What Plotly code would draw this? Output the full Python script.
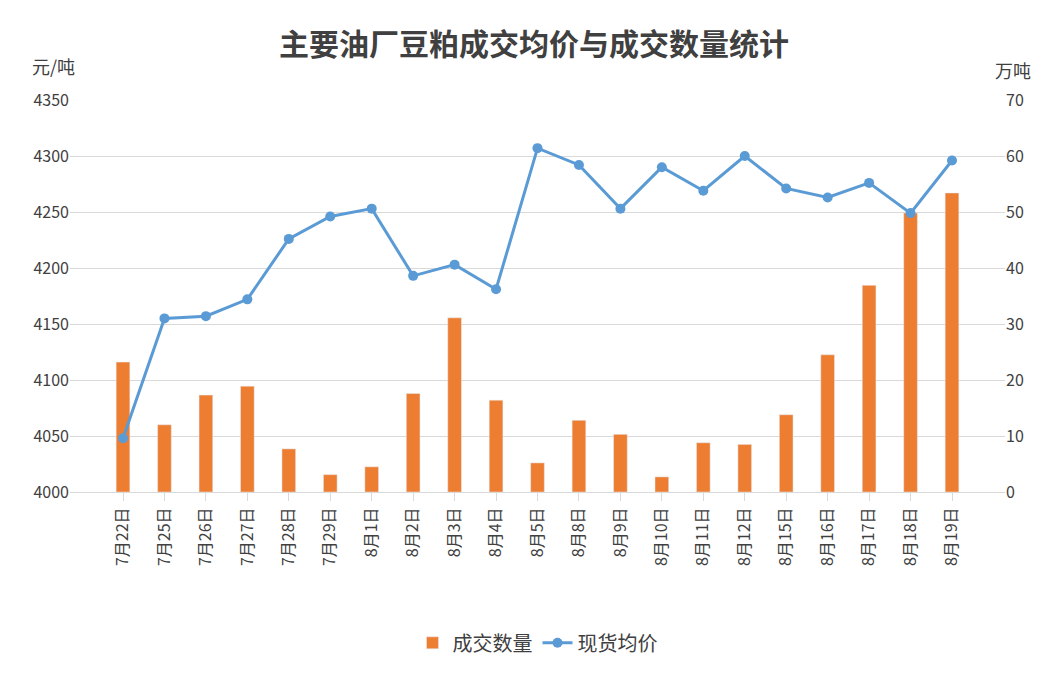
import plotly.graph_objects as go

dates = ["7月22日","7月25日","7月26日","7月27日","7月28日","7月29日","8月1日","8月2日","8月3日","8月4日","8月5日","8月8日","8月9日","8月10日","8月11日","8月12日","8月15日","8月16日","8月17日","8月18日","8月19日"]
volume = [23.2,12,17.3,18.9,7.7,3.1,4.5,17.6,31.1,16.4,5.2,12.8,10.3,2.7,8.8,8.5,13.8,24.5,36.9,49.8,53.4]
price = [4048,4155,4157,4172,4226,4246,4253,4193,4203,4181,4307,4292,4253,4290,4269,4300,4271,4263,4276,4249,4296]

font = "Noto Sans CJK SC"
fig = go.Figure()
fig.add_trace(go.Bar(x=dates, y=volume, name="成交数量", yaxis="y", marker_color="#ED7D31", width=0.33))
fig.add_trace(go.Scatter(x=dates, y=price, name="现货均价", mode="lines+markers", yaxis="y2",
                         line=dict(color="#5B9BD5", width=3), marker=dict(size=10, color="#5B9BD5")))
fig.update_layout(
    width=1052, height=674, paper_bgcolor="white", plot_bgcolor="white",
    font=dict(family=font, size=16, color="#404040"),
    title=dict(text="<b>主要油厂豆粕成交均价与成交数量统计</b>", x=0.5, y=0.962, xanchor="center",
               font=dict(size=30, color="#404040")),
    margin=dict(l=62, r=55, t=92, b=190),
    xaxis=dict(tickangle=-90, showline=True, linecolor="#D9D9D9", ticks="outside", tickcolor="#D9D9D9",
               ticklen=8, tickfont=dict(size=16), automargin=False),
    yaxis=dict(range=[0,70], dtick=10, side="right", showgrid=False, zeroline=False,
               tickfont=dict(size=16), automargin=False),
    yaxis2=dict(range=[4000,4350], dtick=50, overlaying="y", side="left", gridcolor="#D9D9D9",
                zeroline=False, tickfont=dict(size=16), automargin=False),
    legend=dict(orientation="h", x=0.5, xanchor="center", y=-0.335, yanchor="top", font=dict(size=20), traceorder="normal"),
    annotations=[
        dict(text="元/吨", xref="paper", yref="paper", x=-0.043, y=1.087, showarrow=False, xanchor="left", yanchor="middle", font=dict(size=18)),
        dict(text="万吨", xref="paper", yref="paper", x=1.03, y=1.077, showarrow=False, xanchor="right", yanchor="middle", font=dict(size=18)),
    ],
)
fig.write_html("out.html")
